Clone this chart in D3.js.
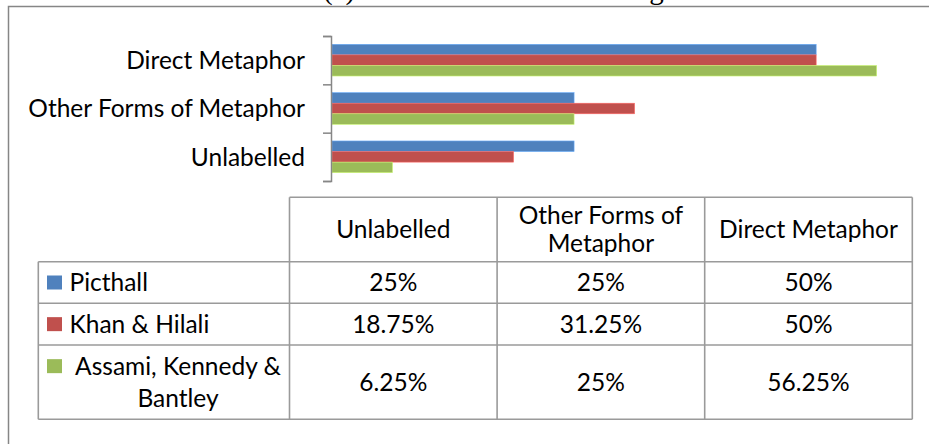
<!DOCTYPE html>
<html>
<head>
<meta charset="utf-8">
<script src="https://cdn.jsdelivr.net/npm/d3@7"></script>
<style>
  body { margin: 0; background: #fff; overflow: hidden; }
  #chart text { font-family: Lato, "Open Sans", sans-serif; fill: #000; }
</style>
</head>
<body>
<svg id="chart"></svg>
<script>
// values, in the table's column order
var categories = ["Unlabelled", "Other Forms of Metaphor", "Direct Metaphor"]
var seriesNames = ["Picthall", "Khan & Hilali", "Assami, Kennedy & Bantley"]
var picthall = [25, 25, 50]
var khanHilali = [18.75, 31.25, 50]
var assami = [6.25, 25, 56.25]
var seriesColors = ["#4f81bd", "#c0504d", "#9bbb59"]
var xMax = 60

var dimensions = {
  width: 929,
  height: 444,
  plot: { left: 332, right: 913, top: 36, bottom: 181, axisX: 331 },
  table: { left: 38.3, colStart: 289.5, right: 912.3, rows: [197.3, 261.7, 303.3, 345, 419.3] }
}
var fontSize = 24.5

var seriesValues = [picthall, khanHilali, assami]

var svg = d3.select("#chart")
  .attr("width", dimensions.width)
  .attr("height", dimensions.height)

// chart area frame (runs off the right and bottom of the picture)
svg.append("rect")
  .attr("x", 8.5)
  .attr("y", 6.5)
  .attr("width", 1000)
  .attr("height", 500)
  .attr("fill", "none")
  .attr("stroke", "#868686")
  .attr("stroke-width", 1.5)

// title, only its descenders show at the top edge
svg.append("text")
  .attr("x", 323)
  .attr("y", -1.5)
  .style("font-family", "'Liberation Serif', 'Times New Roman', serif")
  .style("font-size", "29px")
  .text("(a) Translations of Rendering")

var xScale = d3.scaleLinear()
  .domain([0, xMax])
  .range([dimensions.plot.left, dimensions.plot.right])

var yScale = d3.scaleBand()
  .domain(categories.slice().reverse())
  .range([dimensions.plot.top, dimensions.plot.bottom])

var ySub = d3.scaleBand()
  .domain(seriesNames)
  .range([0, yScale.bandwidth()])
  .paddingOuter(0.785)

var groups = svg.append("g")
  .selectAll("g")
  .data(categories)
  .enter().append("g")
  .attr("transform", d => `translate(0,${yScale(d)})`)

groups.selectAll("rect")
  .data((d, i) => seriesNames.map((s, j) => ({ series: s, value: seriesValues[j][i], color: seriesColors[j] })))
  .enter().append("rect")
  .attr("x", xScale(0))
  .attr("y", d => ySub(d.series))
  .attr("width", d => xScale(d.value) - xScale(0))
  .attr("height", ySub.bandwidth())
  .attr("fill", d => d.color)
  .attr("stroke", d => d3.color(d.color).brighter(0.8))
  .attr("stroke-width", 0.6)

// category axis drawn as a bracket with ticks between the groups
var yIndex = d3.scaleLinear()
  .domain([0, categories.length])
  .range([dimensions.plot.top, dimensions.plot.bottom])

var yAxisGen = d3.axisLeft(yIndex)
  .tickValues(d3.range(categories.length + 1))
  .tickSize(8)
  .tickSizeOuter(8)
  .tickFormat("")

var yAxis = svg.append("g")
  .attr("transform", `translate(${dimensions.plot.axisX},0)`)
  .call(yAxisGen)
yAxis.selectAll("path, line")
  .attr("stroke", "#868686")
  .attr("stroke-width", 1.5)

svg.append("g")
  .selectAll("text")
  .data(categories)
  .enter().append("text")
  .attr("x", 305)
  .attr("y", d => yScale(d) + yScale.bandwidth() / 2)
  .attr("dy", "0.36em")
  .attr("text-anchor", "end")
  .style("font-size", fontSize + "px")
  .text(d => d)

// data table
var t = dimensions.table
var colScale = d3.scaleBand()
  .domain(categories)
  .range([t.colStart, t.right])

var lineColor = "#9a9a9a"
var tableLines = svg.append("g")
  .attr("stroke", lineColor)
  .attr("stroke-width", 1.6)

tableLines.append("line")
  .attr("x1", t.colStart).attr("x2", t.right)
  .attr("y1", t.rows[0]).attr("y2", t.rows[0])
tableLines.selectAll(".hrow")
  .data(t.rows.slice(1))
  .enter().append("line")
  .attr("x1", t.left).attr("x2", t.right)
  .attr("y1", d => d).attr("y2", d => d)
tableLines.append("line")
  .attr("x1", t.left).attr("x2", t.left)
  .attr("y1", t.rows[1]).attr("y2", t.rows[4])
tableLines.selectAll(".vcol")
  .data(categories.map(c => colScale(c)).concat([t.right]))
  .enter().append("line")
  .attr("x1", d => d).attr("x2", d => d)
  .attr("y1", t.rows[0]).attr("y2", t.rows[4])

function wrapLines(words, maxWidth) {
  var probe = svg.append("text").style("font-size", fontSize + "px")
  var lines = []
  var line = []
  words.split(" ").forEach(function (w) {
    var test = line.concat([w]).join(" ")
    probe.text(test)
    if (line.length && probe.node().getComputedTextLength() > maxWidth) {
      lines.push(line.join(" "))
      line = [w]
    } else {
      line.push(w)
    }
  })
  lines.push(line.join(" "))
  probe.remove()
  return lines
}

function multiText(x, yCenter, lines, lineHeight, anchor) {
  var top = yCenter - (lines.length - 1) * lineHeight / 2
  var txt = svg.append("text")
    .attr("text-anchor", anchor)
    .style("font-size", fontSize + "px")
  lines.forEach(function (l, i) {
    txt.append("tspan")
      .attr("x", x)
      .attr("y", top + i * lineHeight)
      .attr("dy", "0.36em")
      .text(l)
  })
  return top
}

// header row
categories.forEach(function (c) {
  var lines = wrapLines(c, colScale.bandwidth() - 12)
  multiText(colScale(c) + colScale.bandwidth() / 2, (t.rows[0] + t.rows[1]) / 2, lines, 28, "middle")
})

// series rows: legend key, name and values
seriesNames.forEach(function (s, j) {
  var yTop = t.rows[j + 1]
  var yBot = t.rows[j + 2]
  var yMid = (yTop + yBot) / 2

  var lines = wrapLines(s, t.colStart - 69 - 4)
  var firstLine
  if (lines.length > 1) {
    firstLine = multiText(178, yMid, lines, 32, "middle")
  } else {
    firstLine = multiText(69.5, yMid, lines, 32, "start")
  }

  svg.append("rect")
    .attr("x", 47)
    .attr("y", firstLine - 7)
    .attr("width", 15)
    .attr("height", 14)
    .attr("fill", seriesColors[j])

  categories.forEach(function (c, i) {
    svg.append("text")
      .attr("x", colScale(c) + colScale.bandwidth() / 2)
      .attr("y", yMid)
      .attr("dy", "0.36em")
      .attr("text-anchor", "middle")
      .style("font-size", fontSize + "px")
      .text(seriesValues[j][i] + "%")
  })
})
</script>
</body>
</html>
